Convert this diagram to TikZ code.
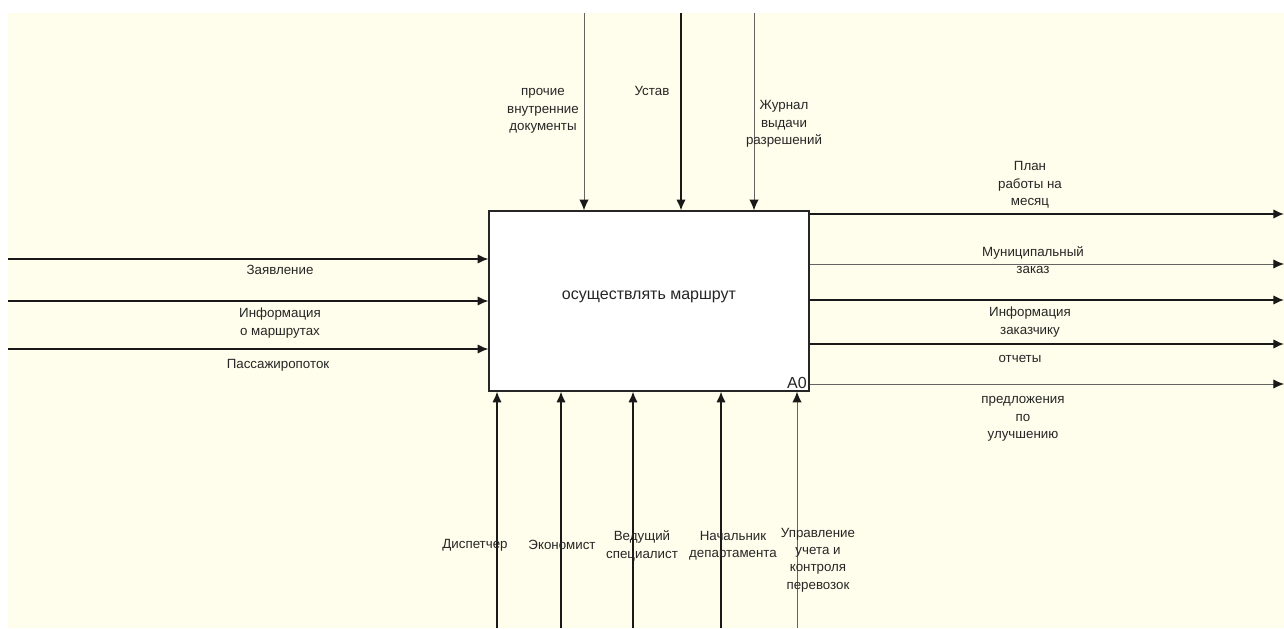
\documentclass[tikz,border=0pt]{standalone}
\usepackage{fontspec}
\setmainfont{Liberation Sans}
\usetikzlibrary{arrows.meta,positioning}
\definecolor{paperbg}{RGB}{255,254,236}
\definecolor{flowdark}{RGB}{25,25,25}
\definecolor{flowgray}{RGB}{100,100,100}

\begin{document}
\begin{tikzpicture}[x=0.75pt,y=-0.75pt,
    flow/.style={draw=flowdark,line width=1.1pt,-{Latex[length=8pt,width=7pt,color=flowdark]}},
    thinflow/.style={flow,draw=flowgray,line width=0.7pt},
    lbl/.style={font=\fontsize{10}{13}\selectfont,align=center,inner sep=0pt,text=black!85},
    actbox/.style={draw=black!85,fill=white,line width=1pt,minimum width=240pt,minimum height=135pt,
      font=\fontsize{12}{14}\selectfont,text=black!85}]
    % paper
    \useasboundingbox (0,0) rectangle (1284,628);
    \fill[white] (0,0) rectangle (1284,628);
    \fill[paperbg] (8,13) rectangle (1284,628);

    % activity
    \node[actbox] (act) at (649,301) {};
    \node[font=\fontsize{12}{14}\selectfont,text=black!85] (actname) at (649,297) {осуществлять маршрут};
    \node[font=\fontsize{12}{14}\selectfont,text=black!85,anchor=south east,inner sep=2pt] (actnum) at (act.south east) {A0};

    % inputs
    \coordinate (in1) at (8,259);
    \coordinate (in2) at (8,301);
    \coordinate (in3) at (8,349);
    \draw[flow] (in1) -- (in1 -| act.west);
    \draw[flow] (in2) -- (in2 -| act.west);
    \draw[flow] (in3) -- (in3 -| act.west);
    \node[lbl] (l-in1) at (280,270) {Заявление};
    \node[lbl] (l-in2) at (280,323) {Информация\\о маршрутах};
    \node[lbl] (l-in3) at (278,365) {Пассажиропоток};

    % controls
    \coordinate (c1) at (584,13);
    \coordinate (c2) at (681,13);
    \coordinate (c3) at (754,13);
    \draw[thinflow] (c1) -- (c1 |- act.north);
    \draw[flow] (c2) -- (c2 |- act.north);
    \draw[thinflow] (c3) -- (c3 |- act.north);
    \node[lbl] (l-c1) at (543,111) {прочие\\внутренние\\документы};
    \node[lbl] (l-c2) at (652,91) {Устав};
    \node[lbl] (l-c3) at (784,124) {Журнал\\выдачи\\разрешений};

    % outputs
    \coordinate (o1) at (1284,214);
    \coordinate (o2) at (1284,264);
    \coordinate (o3) at (1284,300);
    \coordinate (o4) at (1284,344);
    \coordinate (o5) at (1284,384);
    \draw[flow] (o1 -| act.east) -- (o1);
    \draw[thinflow] (o2 -| act.east) -- (o2);
    \draw[flow] (o3 -| act.east) -- (o3);
    \draw[flow] (o4 -| act.east) -- (o4);
    \draw[thinflow] (o5 -| act.east) -- (o5);
    \node[lbl] (l-o1) at (1030,185) {План\\работы на\\месяц};
    \node[lbl] (l-o2) at (1033,260) {Муниципальный\\заказ};
    \node[lbl] (l-o3) at (1030,322) {Информация\\заказчику};
    \node[lbl] (l-o4) at (1020,359) {отчеты};
    \node[lbl] (l-o5) at (1023,419) {предложения\\по\\улучшению};

    % mechanisms
    \coordinate (m1) at (497,628);
    \coordinate (m2) at (561,628);
    \coordinate (m3) at (633,628);
    \coordinate (m4) at (721,628);
    \coordinate (m5) at (797,628);
    \draw[flow] (m1) -- (m1 |- act.south);
    \draw[flow] (m2) -- (m2 |- act.south);
    \draw[flow] (m3) -- (m3 |- act.south);
    \draw[flow] (m4) -- (m4 |- act.south);
    \draw[thinflow] (m5) -- (m5 |- act.south);
    \node[lbl] (l-m1) at (475,545) {Диспетчер};
    \node[lbl] (l-m2) at (562,545) {Экономист};
    \node[lbl] (l-m3) at (642,546) {Ведущий\\специалист};
    \node[lbl] (l-m4) at (733,546) {Начальник\\департамента};
    \node[lbl] (l-m5) at (818,560) {Управление\\учета и\\контроля\\перевозок};
\end{tikzpicture}
\end{document}
